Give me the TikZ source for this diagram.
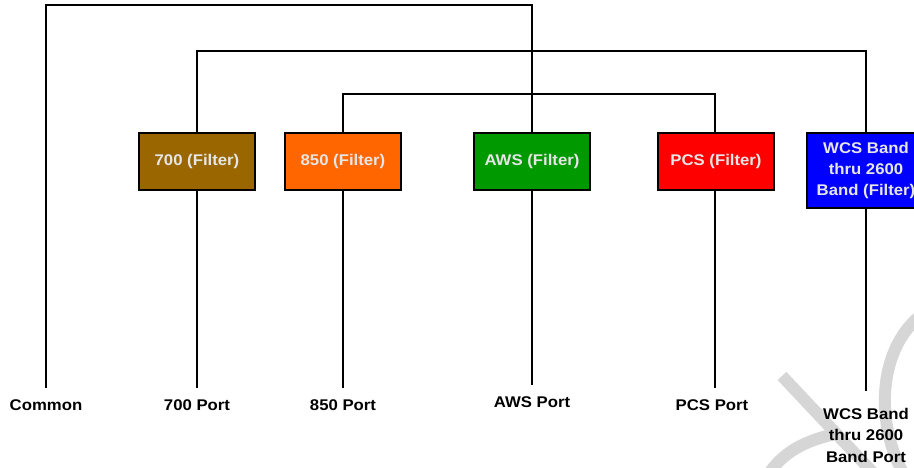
\documentclass[tikz,border=0pt]{standalone}
\usepackage{fontspec}
\setmainfont{Liberation Sans}[FakeStretch=1.08]
\definecolor{cbrown}{HTML}{996600}
\definecolor{corange}{HTML}{FF6600}
\definecolor{cgreen}{HTML}{009900}
\definecolor{cred}{HTML}{FF0000}
\definecolor{cblue}{HTML}{0000FF}
\definecolor{ctext}{HTML}{E6E6E6}
\definecolor{wmark}{HTML}{D6D6D6}
\begin{document}
\begin{tikzpicture}[x=1pt,y=-1pt,
  wire/.style={line width=2pt,black},
  filterbox/.style={draw=black,line width=2pt,minimum width=116pt,minimum height=57pt,
    text=ctext,font={\bfseries\fontsize{15.5}{21}\selectfont},align=center,inner sep=0pt},
  port/.style={font={\bfseries\fontsize{15.5}{21.5}\selectfont},align=center,inner sep=0pt,text=black},
  wm/.style={wmark,line width=12pt}]
\clip (0,0) rectangle (914,468);
\fill[white] (0,0) rectangle (914,468);
% watermark strokes
\draw[wm] (782,376) -- (878,478);
\draw[wm] (920,316) .. controls (878,350) and (874,425) .. (906,478);
\draw[wm] (766,478) .. controls (782,452) and (805,440) .. (840,433);
% filter boxes
\node[filterbox,fill=cbrown] (b700) at (197,161.5) {700 (Filter)};
\node[filterbox,fill=corange] (b850) at (343,161.5) {850 (Filter)};
\node[filterbox,fill=cgreen] (baws) at (532,161.5) {AWS (Filter)};
\node[filterbox,fill=cred] (bpcs) at (716,161.5) {PCS (Filter)};
\node[filterbox,fill=cblue,minimum width=118pt,minimum height=75pt] (bwcs) at (866,170.5) {WCS Band\\thru 2600\\Band (Filter)};
% port labels
\node[port,anchor=base] (pcom) at (46,410) {Common};
\node[port,anchor=base] (p700) at (197,410) {700 Port};
\node[port,anchor=base] (p850) at (343,410) {850 Port};
\node[port,anchor=base] (paws) at (532,407) {AWS Port};
\node[port,anchor=base] (ppcs) at (712,410) {PCS Port};
\node[port,anchor=north] (pwcs) at (866,408) {WCS Band\\thru 2600\\Band Port};
% corner coordinates
\coordinate (c1) at (46,5);
\coordinate (c2) at (532,5);
\coordinate (c3) at (197,51);
\coordinate (c4) at (866,51);
\coordinate (c5) at (343,94);
\coordinate (c6) at (715,94);
% connectors
\draw[wire] ([yshift=11pt]pcom.north) -- (c1) -- (c2) -- (baws.north);
\draw[wire] (b700.north) -- (c3) -- (c4) -- (bwcs.north);
\draw[wire] (b850.north) -- (c5) -- (c6) -- (bpcs.north -| c6);
\draw[wire] (b700.south) -- ([yshift=11pt]p700.north -| b700.south);
\draw[wire] (b850.south) -- ([yshift=11pt]p850.north -| b850.south);
\draw[wire] (baws.south) -- ([yshift=11pt]paws.north -| baws.south);
\draw[wire] (bpcs.south -| c6) -- ([yshift=11pt]ppcs.north -| c6);
\draw[wire] (bwcs.south) -- ([yshift=17pt]pwcs.north);
\end{tikzpicture}
\end{document}
